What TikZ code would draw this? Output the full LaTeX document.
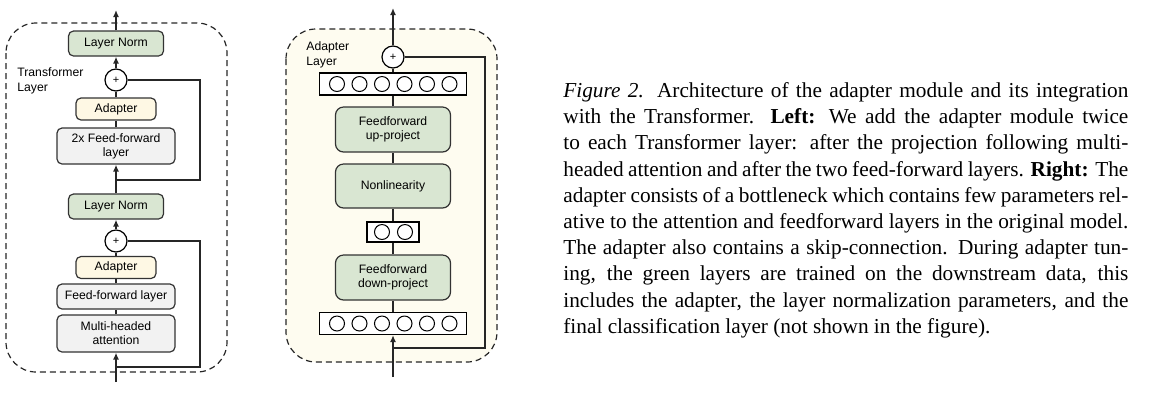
\documentclass[tikz,border=0pt]{standalone}
\usepackage{fontspec}
\setmainfont{Liberation Serif}
\setsansfont{Liberation Sans}
\usetikzlibrary{arrows.meta}

\newlength\px
\setlength\px{0.5pt}
\definecolor{normgreen}{HTML}{D9E6D2}
\definecolor{adaptyellow}{HTML}{FEF8E4}
\definecolor{layergray}{HTML}{F2F2F2}
\definecolor{adaptbg}{HTML}{FEFCF0}
\definecolor{edgegray}{HTML}{333333}

\begin{document}
\begin{tikzpicture}[x=0.5pt, y=-0.5pt,
    blk/.style={draw=edgegray, line width=0.6pt, rounded corners=2.5pt, inner sep=0pt,
        align=center, font=\sffamily\fontsize{6.1}{7}\selectfont},
    norm/.style={blk, fill=normgreen, minimum width=95\px, minimum height=25\px},
    adapt/.style={blk, fill=adaptyellow, minimum width=80\px, minimum height=22\px},
    ffbox/.style={blk, fill=layergray, minimum width=118\px},
    proj/.style={blk, fill=normgreen, rounded corners=4pt, minimum width=115\px},
    addc/.style={circle, draw=black, line width=0.6pt, fill=white, minimum size=22\px,
        inner sep=0pt, font=\sffamily\fontsize{5.5}{6}\selectfont},
    bar/.style={draw=black, line width=0.6pt, fill=white, inner sep=0pt},
    neuron/.style={circle, draw=black, line width=0.5pt, minimum size=15\px, inner sep=0pt},
    lbl/.style={align=left, inner sep=0pt, font=\sffamily\fontsize{6.1}{7.5}\selectfont},
    frame/.style={draw=black!85, line width=0.6pt, dash pattern=on 3pt off 2pt, rounded corners=15pt},
    wire/.style={draw=black!85, line width=0.75pt},
    arr/.style={wire, -{Latex[length=3.5pt,width=3pt]}}
]
    \useasboundingbox (0,0) rectangle (1158,404);

    % Transformer layer (left)
    \draw[frame] (6,23) rectangle (227,372);
    \node[lbl, anchor=west] (tlab) at (17,80.5) {Transformer\\Layer};

    \node[norm] (ln1) at (116,43.5) {Layer Norm};
    \node[addc] (add1) at (116,80) {+};
    \node[adapt] (ad1) at (116,109) {Adapter};
    \node[ffbox, minimum height=36\px] (ff2) at (116,146) {2x Feed-forward\\layer};
    \node[norm] (ln2) at (116,206.5) {Layer Norm};
    \node[addc] (add2) at (116,241) {+};
    \node[adapt] (ad2) at (116,267.5) {Adapter};
    \node[ffbox, minimum height=25\px] (ff1) at (116,296.5) {Feed-forward layer};
    \node[ffbox, minimum height=37\px] (mha) at (116,333.5) {Multi-headed\\attention};

    \coordinate (out1) at (116,10);
    \coordinate (in1) at (116,382);
    \coordinate (sk1r) at (200,180); \coordinate (sk1) at (116,180);
    \coordinate (sk2r) at (200,367); \coordinate (sk2) at (116,367);

    \draw[arr] (ln1) -- (out1);
    \draw[arr] (add1) -- (ln1);
    \draw[wire] (ad1) -- (add1);
    \draw[wire] (ff2) -- (ad1);
    \draw[arr] (ln2) -- (ff2);
    \draw[wire] (add1.east) -| (sk1r) -- (sk1); % skip connection
    \draw[arr] (add2) -- (ln2);
    \draw[wire] (ad2) -- (add2);
    \draw[wire] (ff1) -- (ad2);
    \draw[wire] (mha) -- (ff1);
    \draw[arr] (in1) -- (mha);
    \draw[wire] (add2.east) -| (sk2r) -- (sk2); % skip connection

    % Adapter layer (right)
    \draw[frame, fill=adaptbg] (286,29) rectangle (497,362);
    \node[lbl, anchor=west] (alab) at (306,55) {Adapter\\Layer};

    \node[addc] (add3) at (393,57) {+};
    \node[bar, minimum width=147\px, minimum height=22\px] (upbar) at (393,84) {};
    \foreach \i in {0,...,5} {
        \node[neuron] (u\i) at ({337+\i*22.5},84) {}; % output units
    }
    \node[proj, minimum height=45\px] (up) at (393,129.5) {Feedforward\\up-project};
    \node[proj, minimum height=44\px] (nl) at (393,186) {Nonlinearity};
    \node[bar, minimum width=52\px, minimum height=20\px] (midbar) at (393,232) {};
    \foreach \i in {0,1} {
        \node[neuron] (m\i) at ({382+\i*23},232) {}; % bottleneck units
    }
    \node[proj, minimum height=45\px] (down) at (393,277.5) {Feedforward\\down-project};
    \node[bar, minimum width=147\px, minimum height=22\px] (inbar) at (393,323.5) {};
    \foreach \i in {0,...,5} {
        \node[neuron] (d\i) at ({337+\i*22.5},323.5) {}; % input units
    }

    \coordinate (out3) at (393,8);
    \coordinate (in3) at (393,377);
    \coordinate (sk3r) at (485,348); \coordinate (sk3) at (393,348);

    \draw[arr] (add3) -- (out3);
    \draw[wire] (upbar) -- (add3);
    \draw[wire] (up) -- (upbar);
    \draw[wire] (nl) -- (up);
    \draw[wire] (midbar) -- (nl);
    \draw[wire] (down) -- (midbar);
    \draw[wire] (inbar) -- (down);
    \draw[arr] (in3) -- (inbar);
    \draw[wire] (add3.east) -| (sk3r) -- (sk3); % skip connection

    % Caption
    \node[anchor=north west, text width=282.5pt, inner sep=0pt, align=justify,
        font=\fontsize{10.65}{13.1}\selectfont] (cap) at (563,82)
        {\textit{Figure 2.} Architecture of the adapter module and its integration\linebreak
        with the Transformer. \textbf{Left:} We add the adapter module twice\linebreak
        to each Transformer layer: after the projection following multi-\linebreak
        headed attention and after the two feed-forward layers. \textbf{Right:} The\linebreak
        adapter consists of a bottleneck which contains few parameters rel-\linebreak
        ative to the attention and feedforward layers in the original model.\linebreak
        The adapter also contains a skip-connection. During adapter tun-\linebreak
        ing, the green layers are trained on the downstream data, this\linebreak
        includes the adapter, the layer normalization parameters, and the\linebreak
        final classification layer (not shown in the figure).};
\end{tikzpicture}
\end{document}
